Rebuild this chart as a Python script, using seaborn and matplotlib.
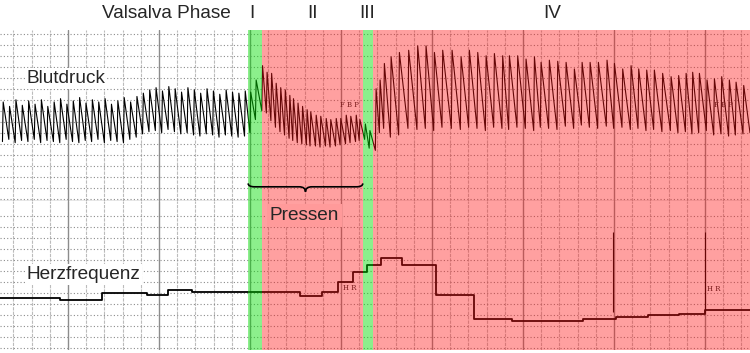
import numpy as np
import pandas as pd
import seaborn as sns
import matplotlib.pyplot as plt
from matplotlib.path import Path
from matplotlib.patches import PathPatch

sns.set_style("white")
plt.rcParams['font.family'] = ['Liberation Sans', 'DejaVu Sans']

# --- Blutdruck: beat onset (s), systolic peak and diastolic trough (mmHg) ---
pre_t = [-7.2, -6.5, -5.8, -5.1, -4.4, -3.7, -3.0, -2.3, -1.6, -0.9,
         -0.2, 0.5, 1.2, 1.9, 2.6, 3.3, 4.0, 4.7, 5.4, 6.1,
         6.8, 7.5, 8.2, 8.9, 9.6, 10.3, 11.0, 11.7, 12.4, 13.1,
         13.8, 14.5, 15.2, 15.9, 16.6, 17.3, 18.0, 18.7, 19.4]
pre_sys = [108, 104, 110, 105, 109, 106, 110, 104, 108, 111,
           106, 109, 112, 107, 110, 108, 111, 106, 109, 112,
           108, 113, 116, 119, 121, 118, 122, 120, 117, 121,
           119, 116, 120, 118, 115, 119, 117, 116, 118]
pre_dia = [72, 74, 71, 73, 72, 74, 71, 73, 72, 71,
           74, 72, 71, 73, 72, 74, 71, 73, 72, 71,
           74, 76, 79, 81, 82, 80, 83, 81, 79, 80,
           78, 77, 79, 78, 76, 78, 77, 76, 77]

p1_t = [20.0, 20.6]
p1_sys = [117, 128]
p1_dia = [80, 92]

p2_t = [21.3, 21.8, 22.3, 22.8, 23.3, 23.8, 24.3, 24.7, 25.2, 25.7, 26.2,
        26.6, 27.2, 27.7, 28.3, 28.8, 29.4, 29.9, 30.5, 31.0, 31.6, 32.0]
p2_sys = [141, 135, 134, 125, 121, 119, 114, 111, 107, 104, 101,
          99, 96, 95, 93, 92, 93, 93, 96, 95, 96, 92]
p2_dia = [100, 98, 91, 85, 81, 78, 75, 73, 71, 70, 69,
          68, 68, 67, 68, 67, 68, 69, 70, 71, 72, 73]

p3_t = [32.6, 33.1]
p3_sys = [88, 82]
p3_dia = [74, 66]

p4_t = [33.78, 34.22, 34.69, 35.43, 36.34, 37.36, 38.35, 39.27, 40.19, 41.10,
        42.13, 43.12, 44.03, 44.95, 45.87, 46.78, 47.69, 48.43, 49.34, 50.26,
        51.18, 51.91, 52.82, 53.74, 54.66, 55.57, 56.42, 57.30, 58.21, 59.16,
        59.97, 60.88, 61.80, 62.64, 63.52, 64.36, 65.27, 66.20, 67.03, 67.85,
        68.57, 69.31, 70.15, 70.96, 71.76, 72.60, 73.34, 74.18]
p4_sys = [120, 128, 143, 149, 153, 155, 159, 159, 153, 155,
          155, 149, 155, 153, 150, 152, 150, 150, 150, 147,
          149, 144, 146, 145, 144, 138, 144, 144, 144, 146,
          143, 138, 141, 138, 137, 137, 134, 131, 132, 134,
          135, 134, 128, 129, 131, 128, 126, 123]
p4_dia = [64, 80, 84, 76, 78, 84, 83, 84, 82, 85,
          84, 83, 85, 84, 82, 85, 84, 83, 85, 84,
          82, 85, 84, 83, 86, 84, 87, 85, 84, 86,
          84, 85, 83, 84, 82, 83, 81, 82, 80, 81,
          79, 80, 82, 78, 79, 77, 78, 79]
bp_end_t, bp_end_dia = 74.95, 80

# --- Herzfrequenz (bpm), step changes ---
hr_t = [-7.47, -0.9, 3.7, 8.7, 11.0, 13.6, 25.5, 27.9, 29.7, 31.3, 32.9, 34.4,
        36.7, 40.4, 44.6, 48.8, 52.6, 56.6, 60.2, 63.7, 67.1, 70.0, 74.95]
hr_bpm = [85, 84, 90, 88, 93, 91, 87, 91, 100, 109, 115, 122,
          115, 88, 66, 65, 65, 66, 68, 70, 71, 75, 75]
hr_marks_t = [59.9, 70.0]

# --- phases ---
phase_edges = [19.8, 21.3, 32.4, 33.5, 74.95]
phase_colors = ['#00dd00', '#ff1212', '#00dd00', '#ff1212']
phase_alpha = [0.45, 0.4, 0.45, 0.4]
phase_labels = ['I', 'II', 'III', 'IV']
phase_label_t = [20.2, 26.9, 32.9, 53.2]

RISE = 0.08
beat_t = pre_t + p1_t + p2_t + p3_t + p4_t
beat_sys = pre_sys + p1_sys + p2_sys + p3_sys + p4_sys
beat_dia = pre_dia + p1_dia + p2_dia + p3_dia + p4_dia
pts = []
for t, s, d in zip(beat_t, beat_sys, beat_dia, strict=True):
    pts.append((t, d))
    pts.append((t + RISE, s))
pts.append((bp_end_t, bp_end_dia))
df_bp = pd.DataFrame(pts, columns=["t", "mmHg"])
df_hr = pd.DataFrame({"t": hr_t, "bpm": hr_bpm})

XLIM = (-7.47, 74.95)
fig = plt.figure(figsize=(7.5, 3.53), dpi=100)
ax_bp = fig.add_axes([0, 152/353, 1, 171/353])
ax_hr = fig.add_axes([0, 3/353, 1, 149/353])

sns.lineplot(data=df_bp, x="t", y="mmHg", ax=ax_bp, estimator=None, sort=False,
             color="black", lw=0.8)
sns.lineplot(data=df_hr, x="t", y="bpm", ax=ax_hr, estimator=None, sort=False,
             color="black", lw=1.3, drawstyle="steps-post")
ax_hr.vlines(hr_marks_t, 73, 145, color="black", lw=0.8, zorder=2)

for ax, ylim, yt in [(ax_bp, (18, 173.4), np.arange(20, 171, 10)),
                     (ax_hr, (38.3, 173.4), np.arange(40, 161, 10))]:
    ax.set_xlim(*XLIM)
    ax.set_ylim(*ylim)
    ax.set_xticks(np.arange(-6, 75, 2), minor=True)
    ax.set_xticks(np.arange(0, 75, 10))
    ax.set_yticks(yt)
    ax.grid(which="minor", axis="x", color="#bcbcbc", lw=0.8, ls=(0, (3, 1)))
    ax.grid(which="major", axis="x", color="#8c8c8c", lw=1.0, ls="-")
    ax.grid(which="major", axis="y", color="#8c8c8c", lw=0.8, ls=(0, (1, 2)))
    ax.tick_params(which="both", length=0, labelbottom=False, labelleft=False)
    ax.set_xlabel("")
    ax.set_ylabel("")
    for sp in ax.spines.values():
        sp.set_visible(False)
    for i in range(4):
        ax.axvspan(phase_edges[i], phase_edges[i + 1], color=phase_colors[i],
                   alpha=phase_alpha[i], lw=0, zorder=3)
ax_bp.spines["bottom"].set_visible(True)
ax_bp.spines["bottom"].set_color("#8c8c8c")
ax_bp.spines["bottom"].set_linewidth(1.0)

# small channel tags
ax_bp.text(30.9, 105, "F B P", fontsize=5, family="DejaVu Serif", ha="center",
           va="center", color="#222222", zorder=2.5)
ax_bp.text(72.0, 105, "F B P", fontsize=5, family="DejaVu Serif", ha="center",
           va="center", color="#222222", zorder=2.5)
ax_hr.text(31.0, 94.5, "H R", fontsize=5, family="DejaVu Serif", ha="center",
           va="center", color="#222222", zorder=2.5)
ax_hr.text(71.0, 93.6, "H R", fontsize=5, family="DejaVu Serif", ha="center",
           va="center", color="#222222", zorder=2.5)

# brace over the pressing period
x0, x1 = phase_edges[0], phase_edges[2]
xm, w = (x0 + x1) / 2, 0.7
ytop, ymid, ybot = 34, 30.9, 26.4
verts = [(x0, ytop), (x0, ymid), (x0 + w, ymid), (xm - w, ymid), (xm, ymid),
         (xm, ybot), (xm, ymid), (xm + w, ymid), (x1 - w, ymid), (x1, ymid), (x1, ytop)]
codes = [Path.MOVETO, Path.CURVE3, Path.CURVE3, Path.LINETO, Path.CURVE3, Path.CURVE3,
         Path.CURVE3, Path.CURVE3, Path.LINETO, Path.CURVE3, Path.CURVE3]
ax_bp.add_patch(PathPatch(Path(verts, codes), fill=False, lw=1.2, color="black",
                          zorder=5, clip_on=False))

FS = 13.7
fig.text(101.7/750, 1 - 18.3/353, "Valsalva Phase", fontsize=FS, ha="left", va="baseline")
for lab, t in zip(phase_labels, phase_label_t):
    xf = (t - XLIM[0]) / (XLIM[1] - XLIM[0])
    fig.text(xf, 1 - 18.3/353, lab, fontsize=FS, ha="center", va="baseline")
fig.text(26.7/750, 1 - 83.3/353, "Blutdruck", fontsize=FS, ha="left", va="baseline",
         bbox=dict(boxstyle="square,pad=0.1", fc="white", ec="none"), zorder=6)
fig.text(26.7/750, 1 - 279/353, "Herzfrequenz", fontsize=FS, ha="left", va="baseline",
         bbox=dict(boxstyle="square,pad=0.1", fc="white", ec="none"), zorder=6)
fig.text(304.5/750, 1 - 220/353, "Pressen", fontsize=FS, ha="center", va="baseline",
         bbox=dict(boxstyle="square,pad=0.15", fc="#ff9a9a", ec="none"), zorder=6)

fig.savefig("out.png", dpi=100)
